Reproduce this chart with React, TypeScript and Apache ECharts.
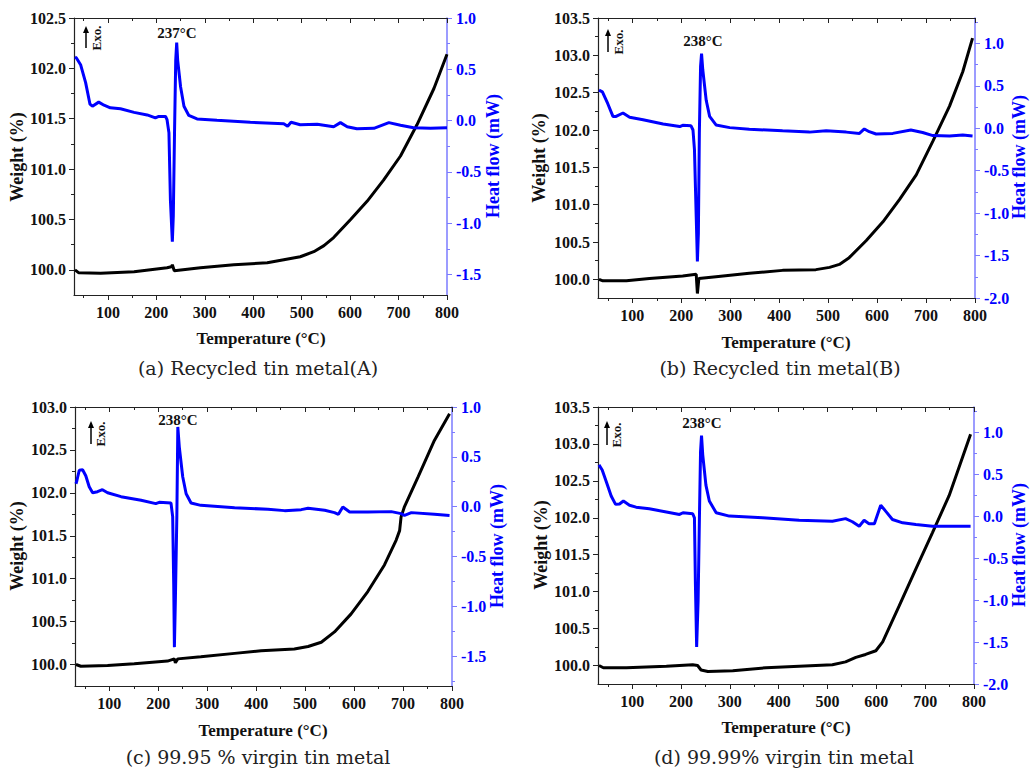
import React, { useEffect, useRef } from "react";
import * as echarts from "echarts";

// ---------- Data ----------
// Panel (a) Recycled tin metal(A)
const tempA_w = [32, 40, 85, 154, 222, 231, 233, 237, 291, 360, 429, 463, 497, 525, 546, 566, 601, 635, 669, 704, 738, 773, 800];
const weightA = [100.0, 99.97, 99.967, 99.98, 100.02, 100.03, 100.05, 99.99, 100.02, 100.05, 100.07, 100.1, 100.13, 100.18, 100.24, 100.32, 100.5, 100.68, 100.89, 101.13, 101.44, 101.8, 102.14];
const tempA_h = [32, 35, 43.6, 54, 63, 68, 81, 92, 105, 126, 154, 181, 198, 205, 219, 222, 226, 229, 233, 235, 237.5, 240, 242, 244, 250, 257, 267, 284, 325, 394, 463, 471, 478, 497, 532, 566, 580, 594, 614, 649, 680, 704, 731, 766, 800];
const heatA = [0.62, 0.61, 0.545, 0.37, 0.16, 0.14, 0.18, 0.15, 0.125, 0.115, 0.08, 0.055, 0.026, 0.04, 0.04, 0.01, -0.12, -0.77, -1.18, -0.93, -0.12, 0.59, 0.76, 0.59, 0.33, 0.14, 0.05, 0.016, 0.003, -0.016, -0.03, -0.055, -0.016, -0.04, -0.036, -0.06, -0.02, -0.06, -0.08, -0.075, -0.02, -0.045, -0.07, -0.075, -0.07];

// Panel (b) Recycled tin metal(B)
const tempB_w = [32, 40, 88, 135, 203, 230.6, 233, 236, 271, 339, 407, 475, 503, 523, 543, 578, 612, 646, 680, 714, 748, 775, 795];
const weightB = [100.0, 99.98, 99.98, 100.01, 100.045, 100.067, 99.81, 100.01, 100.035, 100.08, 100.12, 100.13, 100.16, 100.2, 100.29, 100.52, 100.77, 101.07, 101.4, 101.85, 102.32, 102.78, 103.23];
const tempB_h = [32, 39, 50, 60.5, 67, 81, 94.6, 122, 163, 197, 203, 220, 224, 227, 230.6, 233, 235, 237, 239.5, 241.5, 244, 251, 258, 271, 299, 339, 407, 462, 496, 537, 564, 574, 584, 598, 632, 669, 693, 714, 748, 775, 795];
const heatB = [0.45, 0.43, 0.29, 0.14, 0.14, 0.18, 0.13, 0.1, 0.05, 0.02, 0.035, 0.03, -0.02, -0.25, -1.04, -1.57, -1.24, -0.06, 0.73, 0.88, 0.69, 0.33, 0.14, 0.04, 0.008, -0.01, -0.03, -0.045, -0.03, -0.045, -0.06, -0.008, -0.04, -0.067, -0.06, -0.02, -0.05, -0.086, -0.09, -0.08, -0.09];

// Panel (c) 99.95 % virgin tin metal
const tempC_w = [32, 42, 96.6, 151, 219, 233, 235, 240, 287, 356, 410, 478, 506, 533, 560, 594, 628, 662, 686, 693, 696, 703, 731, 764, 795];
const weightC = [100.0, 99.98, 99.99, 100.01, 100.04, 100.066, 100.02, 100.066, 100.09, 100.13, 100.16, 100.18, 100.21, 100.26, 100.38, 100.59, 100.85, 101.16, 101.45, 101.56, 101.72, 101.84, 102.19, 102.61, 102.92];
const tempC_h = [32, 34, 38.7, 45.5, 52, 59, 66, 76, 86, 96.6, 124, 165, 195, 202, 226, 229.5, 231.6, 233, 235, 238, 240, 243, 250, 257, 267, 287, 356, 424, 458, 492, 506, 540, 560, 568, 577, 591, 628, 676, 696, 703, 717, 764, 795];
const heatC = [0.23, 0.265, 0.365, 0.37, 0.31, 0.2, 0.14, 0.15, 0.17, 0.14, 0.1, 0.064, 0.03, 0.043, 0.037, -0.1, -0.77, -1.41, -0.94, -0.1, 0.8, 0.6, 0.3, 0.13, 0.037, 0.013, -0.01, -0.027, -0.04, -0.03, -0.017, -0.037, -0.06, -0.077, -0.003, -0.053, -0.053, -0.05, -0.07, -0.087, -0.06, -0.077, -0.09];

// Panel (d) 99.99% virgin tin metal
const tempD_w = [32, 41, 88, 170, 224, 234, 241, 255, 306, 374, 442, 510, 537, 558, 578, 599, 613, 647, 681, 715, 749, 793];
const weightD = [100.0, 99.97, 99.97, 99.99, 100.01, 100.0, 99.94, 99.92, 99.93, 99.97, 99.99, 100.01, 100.05, 100.11, 100.15, 100.2, 100.32, 100.81, 101.31, 101.8, 102.3, 103.13];
const tempD_h = [32, 38.6, 47, 57, 66, 74, 82, 94.5, 108, 135, 170, 197, 204, 224, 227.5, 229.5, 232, 235, 237.7, 240, 242, 244.5, 251, 258, 272, 299, 367, 442, 510, 537, 551, 565, 575, 585, 596, 609, 619, 633, 654, 681, 715, 749, 793];
const heatD = [0.61, 0.55, 0.41, 0.24, 0.14, 0.145, 0.18, 0.13, 0.107, 0.087, 0.05, 0.02, 0.04, 0.028, -0.02, -0.81, -1.56, -1.01, -0.02, 0.77, 0.96, 0.73, 0.37, 0.18, 0.04, 0.0, -0.02, -0.05, -0.06, -0.03, -0.067, -0.12, -0.05, -0.09, -0.09, 0.13, 0.06, -0.04, -0.08, -0.1, -0.12, -0.12, -0.12];

// Tick values
const xMajorTicks = [100, 200, 300, 400, 500, 600, 700, 800];
const xMinorTicks = [50, 150, 250, 350, 450, 550, 650, 750];
const weightTicksA = [100.0, 100.5, 101.0, 101.5, 102.0, 102.5];
const weightMinorA = [100.25, 100.75, 101.25, 101.75, 102.25];
const weightTicksB = [100.0, 100.5, 101.0, 101.5, 102.0, 102.5, 103.0, 103.5];
const weightMinorB = [100.25, 100.75, 101.25, 101.75, 102.25, 102.75, 103.25];
const weightTicksC = [100.0, 100.5, 101.0, 101.5, 102.0, 102.5, 103.0];
const weightMinorC = [100.25, 100.75, 101.25, 101.75, 102.25, 102.75];
const weightTicksD = weightTicksB;
const weightMinorD = weightMinorB;
const heatTicksA = [-1.5, -1.0, -0.5, 0.0, 0.5, 1.0];
const heatMinorA = [-1.25, -0.75, -0.25, 0.25, 0.75];
const heatTicksB = [-2.0, -1.5, -1.0, -0.5, 0.0, 0.5, 1.0];
const heatMinorB = [-1.75, -1.25, -0.75, -0.25, 0.25, 0.75, 1.25];
const heatTicksC = [-1.5, -1.0, -0.5, 0.0, 0.5, 1.0];
const heatMinorC = [-1.75, -1.25, -0.75, -0.25, 0.25, 0.75];
const heatTicksD = heatTicksB;
const heatMinorD = heatMinorB;

const captions = ["(a) Recycled tin metal(A)", "(b) Recycled tin metal(B)", "(c) 99.95 % virgin tin metal", "(d) 99.99% virgin tin metal"];
const peakLabels = ["237°C", "238°C", "238°C", "238°C"];

// ---------- Layout ----------
const panels = [
  { grid: { left: 74, top: 18, width: 373, height: 277 }, xMin: 30, xMax: 800, wMin: 99.75, wMax: 102.5, hMin: -1.7, hMax: 1.0,
    tw: tempA_w, w: weightA, th: tempA_h, h: heatA, wT: weightTicksA, wM: weightMinorA, hT: heatTicksA, hM: heatMinorA,
    peak: [177, 33], arrow: [86, 27, 48], exo: [96, 38], weightLbl: [17, 157], heatLbl: [493, 156], tempLbl: [261, 338], cap: [258, 368] },
  { grid: { left: 598, top: 18, width: 377, height: 280 }, xMin: 30, xMax: 800, wMin: 99.75, wMax: 103.5, hMin: -2.0, hMax: 1.3,
    tw: tempB_w, w: weightB, th: tempB_h, h: heatB, wT: weightTicksB, wM: weightMinorB, hT: heatTicksB, hM: heatMinorB,
    peak: [703, 41], arrow: [608, 30, 52], exo: [618, 42], weightLbl: [539, 158], heatLbl: [1019, 157], tempLbl: [786, 342], cap: [780, 368] },
  { grid: { left: 75, top: 407, width: 377, height: 279 }, xMin: 30, xMax: 800, wMin: 99.75, wMax: 103.0, hMin: -1.8, hMax: 1.0,
    tw: tempC_w, w: weightC, th: tempC_h, h: heatC, wT: weightTicksC, wM: weightMinorC, hT: heatTicksC, hM: heatMinorC,
    peak: [178, 420], arrow: [91, 422, 444], exo: [100, 434], weightLbl: [17, 546], heatLbl: [497, 546], tempLbl: [263, 730], cap: [258, 757] },
  { grid: { left: 598, top: 407, width: 376, height: 277 }, xMin: 30, xMax: 800, wMin: 99.75, wMax: 103.5, hMin: -2.0, hMax: 1.3,
    tw: tempD_w, w: weightD, th: tempD_h, h: heatD, wT: weightTicksD, wM: weightMinorD, hT: heatTicksD, hM: heatMinorD,
    peak: [702, 423], arrow: [607, 422, 445], exo: [616, 435], weightLbl: [541, 545], heatLbl: [1019, 545], tempLbl: [786, 727], cap: [784, 757] },
];

const SERIF = "'Liberation Serif', 'Times New Roman', serif";
const CAPTION_FONT = "'DejaVu Serif', serif";
const BLUE = "#0000ff";
const AXIS_BLUE = "#7b7bff";

function buildOption() {
  const grids: any[] = [];
  const xAxes: any[] = [];
  const yAxes: any[] = [];
  const series: any[] = [];
  const graphics: any[] = [];

  panels.forEach((p, i) => {
    grids.push({ ...p.grid, containLabel: false });
    const baseX = { type: "value", gridIndex: i, min: p.xMin, max: p.xMax, splitLine: { show: false } };
    xAxes.push({ ...baseX, position: "bottom",
      axisLine: { show: true, onZero: false, lineStyle: { color: "#222", width: 1.2 } },
      axisTick: { show: true, inside: false, length: 5, customValues: xMajorTicks, lineStyle: { color: "#222" } },
      axisLabel: { show: true, customValues: xMajorTicks, margin: 9, color: "#111", fontFamily: SERIF, fontWeight: "bold", fontSize: 16 } });
    xAxes.push({ ...baseX, position: "bottom",
      axisLine: { show: false, onZero: false },
      axisTick: { show: true, inside: false, length: 3, customValues: xMinorTicks, lineStyle: { color: "#222" } },
      axisLabel: { show: false } });
    xAxes.push({ ...baseX, position: "top",
      axisLine: { show: true, onZero: false, lineStyle: { color: "#222", width: 1.2 } },
      axisTick: { show: true, inside: true, length: 5, customValues: xMajorTicks, lineStyle: { color: "#222" } },
      axisLabel: { show: false } });
    xAxes.push({ ...baseX, position: "top",
      axisLine: { show: false, onZero: false },
      axisTick: { show: true, inside: true, length: 3, customValues: xMinorTicks, lineStyle: { color: "#222" } },
      axisLabel: { show: false } });

    const baseYL = { type: "value", gridIndex: i, min: p.wMin, max: p.wMax, position: "left", splitLine: { show: false } };
    yAxes.push({ ...baseYL,
      axisLine: { show: true, onZero: false, lineStyle: { color: "#222", width: 1.2 } },
      axisTick: { show: true, inside: false, length: 5, customValues: p.wT, lineStyle: { color: "#222" } },
      axisLabel: { show: true, customValues: p.wT, margin: 8, color: "#111", fontFamily: SERIF, fontWeight: "bold", fontSize: 16,
        formatter: (v: number) => v.toFixed(1) } });
    yAxes.push({ ...baseYL,
      axisLine: { show: false, onZero: false },
      axisTick: { show: true, inside: false, length: 3, customValues: p.wM, lineStyle: { color: "#222" } },
      axisLabel: { show: false } });
    const baseYR = { type: "value", gridIndex: i, min: p.hMin, max: p.hMax, position: "right", splitLine: { show: false } };
    yAxes.push({ ...baseYR,
      axisLine: { show: true, onZero: false, lineStyle: { color: AXIS_BLUE, width: 1.5 } },
      axisTick: { show: true, inside: false, length: 5, customValues: p.hT, lineStyle: { color: AXIS_BLUE } },
      axisLabel: { show: true, customValues: p.hT, margin: 9, color: BLUE, fontFamily: SERIF, fontWeight: "bold", fontSize: 16,
        formatter: (v: number) => v.toFixed(1) } });
    yAxes.push({ ...baseYR,
      axisLine: { show: false, onZero: false },
      axisTick: { show: true, inside: false, length: 3, customValues: p.hM, lineStyle: { color: AXIS_BLUE } },
      axisLabel: { show: false } });

    series.push({
      name: "Weight " + i, type: "line", xAxisIndex: 4 * i, yAxisIndex: 4 * i,
      data: p.tw.map((t, k) => [t, p.w[k]]), showSymbol: false, smooth: false,
      lineStyle: { color: "#000", width: 3 }, z: 3,
    });
    series.push({
      name: "Heat flow " + i, type: "line", xAxisIndex: 4 * i, yAxisIndex: 4 * i + 2,
      data: p.th.map((t, k) => [t, p.h[k]]), showSymbol: false, smooth: false,
      lineStyle: { color: BLUE, width: 3 }, z: 4,
    });

    graphics.push({ type: "text", x: p.peak[0], y: p.peak[1],
      style: { text: peakLabels[i], fill: "#111", font: `bold 15px ${SERIF}`, align: "center", verticalAlign: "middle" } });
    graphics.push({ type: "line", shape: { x1: p.arrow[0], y1: p.arrow[1] + 5, x2: p.arrow[0], y2: p.arrow[2] },
      style: { stroke: "#000", lineWidth: 1.5 } });
    graphics.push({ type: "polygon", shape: { points: [[p.arrow[0] - 3, p.arrow[1] + 6], [p.arrow[0] + 3, p.arrow[1] + 6], [p.arrow[0], p.arrow[1] - 1]] },
      style: { fill: "#000" } });
    graphics.push({ type: "text", x: p.exo[0], y: p.exo[1], rotation: Math.PI / 2,
      style: { text: "Exo.", fill: "#111", font: `bold 13px ${SERIF}`, align: "center", verticalAlign: "middle" } });
    graphics.push({ type: "text", x: p.weightLbl[0], y: p.weightLbl[1], rotation: Math.PI / 2,
      style: { text: "Weight (%)", fill: "#111", font: `bold 18px ${SERIF}`, align: "center", verticalAlign: "middle" } });
    graphics.push({ type: "text", x: p.heatLbl[0], y: p.heatLbl[1], rotation: Math.PI / 2,
      style: { text: "Heat flow (mW)", fill: BLUE, font: `bold 18px ${SERIF}`, align: "center", verticalAlign: "middle" } });
    graphics.push({ type: "text", x: p.tempLbl[0], y: p.tempLbl[1],
      style: { text: "Temperature (°C)", fill: "#111", font: `bold 17px ${SERIF}`, align: "center", verticalAlign: "middle" } });
    graphics.push({ type: "text", x: p.cap[0], y: p.cap[1],
      style: { text: captions[i], fill: "#222", font: `19px ${CAPTION_FONT}`, align: "center", verticalAlign: "middle" } });
  });

  return {
    animation: false,
    backgroundColor: "#ffffff",
    grid: grids,
    xAxis: xAxes,
    yAxis: yAxes,
    series,
    graphic: graphics,
  };
}

export default function App() {
  const ref = useRef<HTMLDivElement>(null);
  useEffect(() => {
    if (!ref.current) return;
    const chart = echarts.init(ref.current, undefined, { renderer: "svg" });
    chart.setOption(buildOption() as any);
    return () => chart.dispose();
  }, []);
  return (
    <div
      ref={ref}
      style={{ position: "absolute", left: 0, top: 0, width: 1032, height: 769, background: "#fff" }}
    />
  );
}
